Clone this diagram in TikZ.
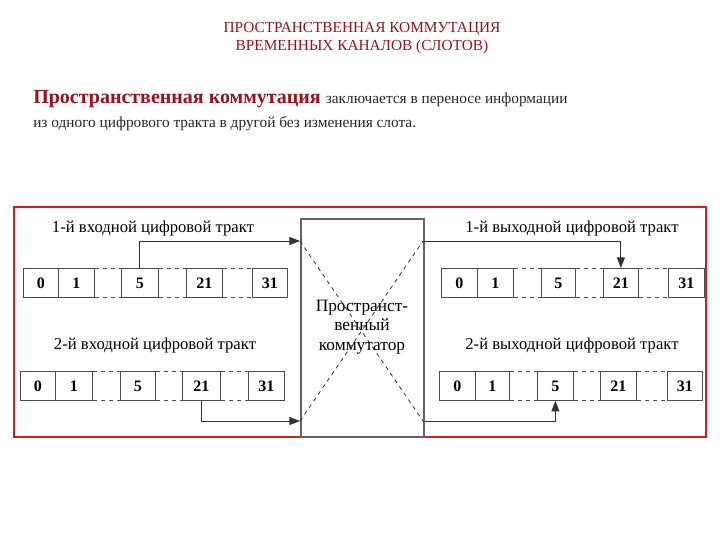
\documentclass[tikz,border=0pt]{standalone}
\usepackage{fontspec}
\setmainfont{Liberation Serif}
\usetikzlibrary{arrows.meta}
\definecolor{maroon}{RGB}{150,20,30}
\definecolor{frame}{RGB}{210,30,30}
\begin{document}
\begin{tikzpicture}[x=0.75pt,y=-0.75pt,
 cell/.style={draw=black!70,line width=0.6pt,inner sep=0pt,anchor=north west,font=\fontsize{12}{12}\selectfont\bfseries},
 gapl/.style={draw=black!70,dashed,line width=0.6pt},
 lbl/.style={font=\fontsize{12.5}{13}\selectfont},
 arr/.style={draw=black!80,line width=0.7pt,-{Triangle[length=8pt,width=6pt]}},
 xline/.style={draw=black!80,dashed,line width=0.6pt}]
\useasboundingbox (0,0) rectangle (720,540);
\node[font=\fontsize{11.5}{14}\selectfont,text=maroon,align=center] (t) at (362,38) {ПРОСТРАНСТВЕННАЯ КОММУТАЦИЯ\\ВРЕМЕННЫХ КАНАЛОВ (СЛОТОВ)};
\node[anchor=base west,inner sep=0pt] (p1) at (33,103) {\fontsize{15}{18}\selectfont\bfseries\color{maroon}Пространственная коммутация \fontsize{11.5}{14}\mdseries\color{black!85}заключается в переносе информации};
\node[anchor=base west,inner sep=0pt,font=\fontsize{11.5}{14}\selectfont,text=black!85] (p2) at (33,127) {из одного цифрового тракта в другой без изменения слота.};
\draw[frame,line width=2.2pt] (14,207) rectangle (706,437);
\node[draw=black!60,line width=1.2pt,minimum width=123*0.75pt,minimum height=218*0.75pt,inner sep=0pt,anchor=north west] (sw) at (300,218) {};
\coordinate (a1) at (300,241); \coordinate (a2) at (300,421);
\coordinate (b1) at (423,241); \coordinate (b2) at (423,421);
\draw[xline] (a1) -- (b2); \draw[xline] (a2) -- (b1);
\node[align=center,inner sep=1pt,font=\fontsize{13}{14.5}\selectfont] (swt) at (362,327) {Пространст-\\венный\\коммутатор};
\newcommand\slotrow[3]{%
 \foreach \n/\xa/\xb/\t in {#3}{
  \node[cell,minimum width=(\xb-\xa)*0.75pt,minimum height=29*0.75pt] (#1\n) at (\xa,#2) {\t};}
}
\slotrow{lia}{268}{0/23/58/0,1/58/94/1,5/121/158/5,21/186/222/21,31/252/287/31}
\slotrow{lib}{371}{0/20/55/0,1/55/92/1,5/120/155/5,21/182/220/21,31/248/284/31}
\slotrow{loa}{268}{0/441/477/0,1/477/513/1,5/541/575/5,21/603/638/21,31/668/704/31}
\slotrow{lob}{371}{0/439/475/0,1/475/509/1,5/537/573/5,21/600/636/21,31/667/702/31}
\foreach \p in {lia,lib,loa,lob}{
 \foreach \u/\v in {1/5,5/21,21/31}{
  \draw[gapl] (\p\u.north east) -- (\p\v.north west);
  \draw[gapl] (\p\u.south east) -- (\p\v.south west);}}
\node[lbl] (l1) at (153,228) {1-й входной цифровой тракт};
\node[lbl] (l2) at (155,345) {2-й входной цифровой тракт};
\node[lbl] (l3) at (572,228) {1-й выходной цифровой тракт};
\node[lbl] (l4) at (572,345) {2-й выходной цифровой тракт};
\draw[arr] (lia5.north) |- (a1);
\draw[arr] (lib21.south) |- (a2);
\draw[arr] (b1) -| (loa21.north);
\draw[arr] (b2) -| (lob5.south);
\end{tikzpicture}
\end{document}
